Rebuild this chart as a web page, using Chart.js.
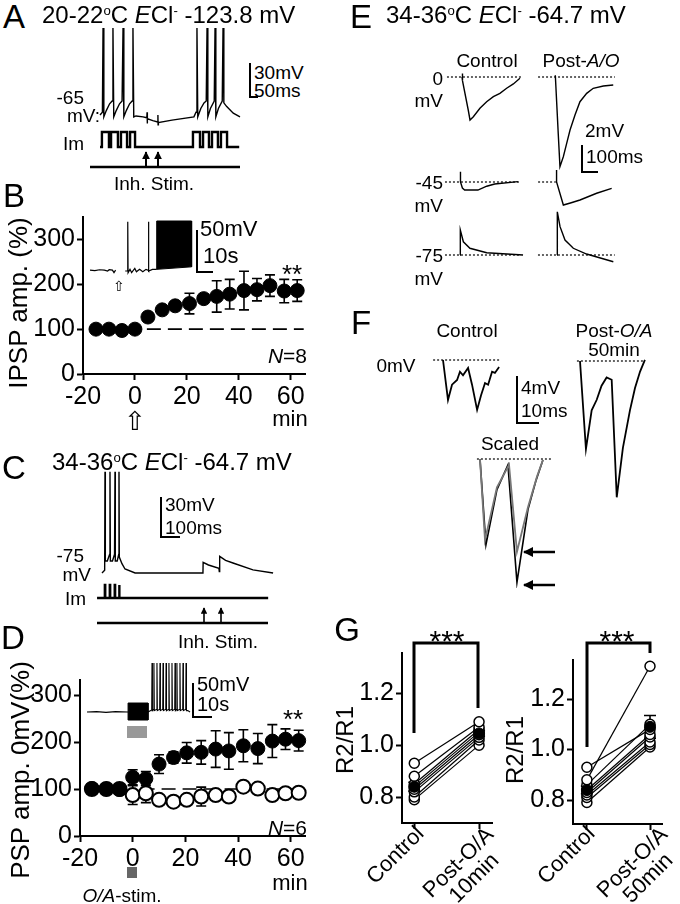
<!DOCTYPE html>
<html>
<head>
<meta charset="utf-8">
<title>Figure</title>
<script src="https://cdn.jsdelivr.net/npm/chart.js@4.4.1/dist/chart.umd.min.js"></script>
<style>
  body { margin: 0; background: #fff; }
  #fig { position: relative; width: 680px; height: 904px; overflow: hidden; background: #fff;
         font-family: "Liberation Sans", Arial, Helvetica, sans-serif; color: #000; }
  #fig canvas, #fig svg { position: absolute; }
  .t { position: absolute; white-space: nowrap; line-height: 1; transform: translate(-50%, -50%); }
  .t.l { transform: translate(0, -50%); }
  .t.r { transform: translate(-100%, -50%); }
  .t.v { transform: translate(-50%, -50%) rotate(-90deg); }
  .t.d { transform: translate(-50%, -50%) rotate(-45deg); text-align: center; font-size: 22px; line-height: 1.0; }
  .pl { font-size: 33px; }
  .h { font-size: 24px; }
  .m { font-size: 22px; }
  .s { font-size: 19px; }
  .yt { font-size: 26px; }
  sup { font-size: 0.55em; position: relative; top: -0.6em; vertical-align: baseline; line-height: 0; }
</style>
</head>
<body>
<div id="fig">
  <svg width="680" height="904" style="left:0;top:0">
    <defs>
      <marker id="ah" viewBox="0 0 10 10" refX="9" refY="5" markerWidth="4" markerHeight="4" orient="auto">
        <path d="M0,0 L10,5 L0,10 z" fill="#000"/>
      </marker>
    </defs>
    <g stroke="#000" fill="none" stroke-width="2">
      <!-- scale bars -->
      <path d="M250 63 V97 H258"/>
      <path d="M197 230 V272 H213"/>
      <path d="M161 497 V537 H180"/>
      <path d="M193 683 V717 H212"/>
      <path d="M582 145 V172 H598"/>
      <path d="M517 376 V423 H539"/>
      <!-- stimulation lines and arrows -->
      <path d="M90 167 H240" stroke-width="2.5"/>
      <path d="M146 167 V152" marker-end="url(#ah)"/>
      <path d="M158 167 V152" marker-end="url(#ah)"/>
      <path d="M97 623 H268" stroke-width="2.5"/>
      <path d="M204 622 V608" stroke-width="1.6" marker-end="url(#ah)"/>
      <path d="M221 622 V608" stroke-width="1.6" marker-end="url(#ah)"/>
      <path d="M555 552 H524" stroke-width="2.5" marker-end="url(#ah)"/>
      <path d="M555 585 H524" stroke-width="2.5" marker-end="url(#ah)"/>
      <!-- significance brackets -->
      <path d="M414 733 V643 H478 V708" stroke-width="3"/>
      <path d="M587 747 V643 H650 V653" stroke-width="3"/>
    </g>
    <rect x="127" y="726" width="20" height="12" fill="#999"/>
    <rect x="127" y="867" width="10" height="11" fill="#666"/>
  </svg>

  <!-- A -->
  <div class="t pl" style="left:14px;top:16px">A</div>
  <div class="t l h" style="left:42px;top:15px">20-22<sup>o</sup>C <i>E</i>Cl<sup>-</sup> -123.8 mV</div>
  <div class="t l s" style="left:254px;top:72px">30mV</div>
  <div class="t l s" style="left:254px;top:90px">50ms</div>
  <div class="t r s" style="left:84px;top:97px">-65</div>
  <div class="t r s" style="left:100px;top:115px">mV:</div>
  <div class="t r s" style="left:84px;top:143px">Im</div>
  <div class="t s" style="left:154px;top:183px">Inh. Stim.</div>

  <!-- B -->
  <div class="t pl" style="left:14px;top:195px">B</div>
  <div class="t v yt" style="left:18px;top:303px">IPSP amp. (%)</div>
  <div class="t l m" style="left:200px;top:229px">50mV</div>
  <div class="t l m" style="left:203px;top:256px">10s</div>
  <div class="t" style="left:119px;top:286px;font-size:14px">⇧</div>
  <div class="t" style="left:292px;top:274px;font-size:26px">**</div>
  <div class="t r" style="left:307px;top:355px;font-size:21px"><i>N</i>=8</div>
  <div class="t m" style="left:290px;top:419px">min</div>
  <div class="t" style="left:135px;top:421px;font-size:26px">⇧</div>

  <!-- C -->
  <div class="t pl" style="left:14px;top:467px">C</div>
  <div class="t l h" style="left:52px;top:462px">34-36<sup>o</sup>C <i>E</i>Cl<sup>-</sup> -64.7 mV</div>
  <div class="t l s" style="left:165px;top:504px">30mV</div>
  <div class="t l s" style="left:165px;top:527px">100ms</div>
  <div class="t r s" style="left:84px;top:555px">-75</div>
  <div class="t r s" style="left:91px;top:574px">mV</div>
  <div class="t r s" style="left:86px;top:598px">Im</div>
  <div class="t s" style="left:218px;top:641px">Inh. Stim.</div>

  <!-- D -->
  <div class="t pl" style="left:13px;top:637px">D</div>
  <div class="t v yt" style="left:20px;top:770px">PSP amp. 0mV(%)</div>
  <div class="t l" style="left:197px;top:684px;font-size:20px">50mV</div>
  <div class="t l" style="left:197px;top:704px;font-size:20px">10s</div>
  <div class="t" style="left:293px;top:719px;font-size:26px">**</div>
  <div class="t r" style="left:307px;top:827px;font-size:21px"><i>N</i>=6</div>
  <div class="t m" style="left:290px;top:883px">min</div>
  <div class="t s" style="left:122px;top:895px"><i>O/A</i>-stim.</div>

  <!-- E -->
  <div class="t pl" style="left:361px;top:16px">E</div>
  <div class="t l h" style="left:386px;top:15px">34-36<sup>o</sup>C <i>E</i>Cl<sup>-</sup> -64.7 mV</div>
  <div class="t s" style="left:487px;top:60px">Control</div>
  <div class="t s" style="left:581px;top:60px">Post-<i>A/O</i></div>
  <div class="t r s" style="left:443px;top:78px">0</div>
  <div class="t r s" style="left:443px;top:100px">mV</div>
  <div class="t r s" style="left:443px;top:182px">-45</div>
  <div class="t r s" style="left:443px;top:205px">mV</div>
  <div class="t r s" style="left:443px;top:255px">-75</div>
  <div class="t r s" style="left:443px;top:278px">mV</div>
  <div class="t l s" style="left:585px;top:130px">2mV</div>
  <div class="t l s" style="left:586px;top:156px">100ms</div>

  <!-- F -->
  <div class="t pl" style="left:361px;top:322px">F</div>
  <div class="t s" style="left:467px;top:330px">Control</div>
  <div class="t s" style="left:614px;top:330px">Post-<i>O/A</i></div>
  <div class="t s" style="left:614px;top:349px">50min</div>
  <div class="t s" style="left:396px;top:365px">0mV</div>
  <div class="t l s" style="left:521px;top:387px">4mV</div>
  <div class="t l s" style="left:521px;top:410px">10ms</div>
  <div class="t s" style="left:510px;top:443px">Scaled</div>

  <!-- G -->
  <div class="t pl" style="left:347px;top:629px">G</div>
  <div class="t" style="left:447px;top:641px;font-size:30px">***</div>
  <div class="t" style="left:617px;top:641px;font-size:30px">***</div>
  <div class="t v h" style="left:345px;top:740px">R2/R1</div>
  <div class="t v h" style="left:515px;top:750px">R2/R1</div>
  <div class="t d" style="left:395px;top:855px">Control</div>
  <div class="t d" style="left:466px;top:870px">Post-O/A<br>10min</div>
  <div class="t d" style="left:566px;top:855px">Control</div>
  <div class="t d" style="left:640px;top:870px">Post-O/A<br>50min</div>
</div>

<script>
// ---- B: IPSP amplitude time course (min, %) ----
const bTimes = [-15, -10, -5, 0, 5, 10.5, 15.5, 21, 26.5, 31.5, 36.5, 42, 47, 52, 57.5, 62.5];
const bIpsp = [100, 100, 97, 100, 127, 143, 152, 157, 168, 173, 178, 186, 188, 197, 185, 186];
const bIpspSem = [3, 3, 4, 3, 5, 5, 6, 23, 10, 35, 33, 43, 25, 24, 26, 24];
const bDashed = [[4.6, 100], [65, 100]];
const bXTicks = [-20, 0, 20, 40, 60];
const bYTicks = [0, 100, 200, 300];

// ---- D: PSP amplitude at 0 mV (filled: O/A stim, open: control) ----
const dTimes = [-15.5, -10, -5, 0, 5, 10, 15.5, 20.5, 26, 31.5, 36.5, 42, 47.5, 53, 58, 63];
const dOAStim = [101, 100, 99, 125, 122, 153, 167, 177, 178, 185, 181, 192, 186, 202, 206, 203];
const dOAStimSem = [3, 3, 3, 16, 15, 20, 12, 22, 25, 39, 39, 34, 32, 35, 22, 22];
const dControl = [100, 100, 100, 87, 91, 77, 73, 77, 84, 87, 84, 105, 101, 87, 91, 92];
const dControlSem = [2, 2, 2, 20, 20, 5, 4, 5, 20, 8, 10, 6, 6, 6, 6, 5];
const dDashed = [[3, 100], [65, 100]];
const dXTicks = [-20, 0, 20, 40, 60];
const dYTicks = [0, 100, 200, 300];

// ---- G: paired-pulse ratio R2/R1 ----
const gYTicks = [0.8, 1.0, 1.2];
const gXTicks = [0, 1];
const gLeftControl = [0.93, 0.88, 0.85, 0.84, 0.83, 0.82, 0.80, 0.79];
const gLeftPost = [1.09, 1.07, 1.06, 1.05, 1.04, 1.03, 1.02, 1.00];
const gLeftMean = [0.84, 1.045];
const gLeftSem = [0.017, 0.011];
const gRightControl = [0.88, 0.93, 0.86, 0.84, 0.83, 0.82, 0.81, 0.79];
const gRightPost = [1.33, 1.08, 1.10, 1.06, 1.05, 1.03, 1.02, 1.01];
const gRightMean = [0.84, 1.09];
const gRightSem = [0.015, 0.045];

// ---- A: membrane potential (ms, mV) and current steps ----
const aVm = [[0, -65], [15, -62], [19, 28], [24, -67], [40, -60], [60, -53], [76, -50], [81, 28], [86, -67],
  [102, -60], [122, -53], [138, -50], [144, 28], [149, -67], [165, -60], [185, -53], [201, -50], [206, 28],
  [211, -67], [225, -66], [269, -67], [293, -68], [294, -62], [295, -74], [297, -69], [330, -71], [361, -72.5],
  [362, -65], [363, -75.5], [365, -73], [450, -70.5], [587, -67], [600, -62], [606, 28], [611, -67], [630, -58],
  [650, -52], [664, -50], [669, 28], [674, -67], [690, -58], [714, -50], [719, 28], [724, -67], [740, -58],
  [764, -50], [769, 28], [774, -52], [792, -56], [833, -63], [875, -67]];
const aImPulses = [[12, 56], [69, 112], [131, 169], [188, 219], [581, 625], [644, 681], [700, 737], [756, 794]];
const aImSpan = [0, 870];

// ---- B / D insets: recordings during stimulation (s, mV) ----
const bInsetPre = [[0, -59], [3, -59.5], [6, -58.5], [9, -59], [11, -60], [12, -58.5], [14, -59], [15, -62], [16, -59]];
const bInsetPost = [[22, -60], [23.4, -60], [23.6, -1], [23.8, -62], [25, -58], [26, -62], [28, -57], [29, -61],
  [31, -58], [33, -61], [35, -58], [36.3, -59], [36.5, -1], [36.8, -60], [39, -58], [40.5, -58], [41.7, -58]];
const bInsetBurst = [[41.7, -58], [41.7, 0], [63.5, 0], [63.5, -55], [41.7, -58]];
const dInsetPre = [[0, -60], [5, -59.5], [10, -60.5], [15, -59.5], [21.6, -60]];
const dInsetBlock = [[21.6, -71.8], [21.6, -46.8], [32.1, -46.8], [32.1, -71.8], [21.6, -71.8]];
const dInsetSpikes = [34.2, 35.2, 36.8, 38.4, 40.0, 41.6, 43.1, 44.7, 46.3, 47.3, 48.9, 50.5, 52.1];
const dInsetEnd = [[53, -58], [54.2, -60]];

// ---- C: membrane potential (ms, mV) and current steps ----
const cVm = [[0, -75], [14, -73], [15.8, 1], [17.5, -66], [28, -66], [40, -61], [42, 1], [44, -66], [55, -66],
  [66, -61], [68.4, 1], [70, -66], [80, -66], [88, -61], [89.4, 1], [91, -63], [105, -68], [121, -72],
  [174, -75], [531, -75], [532, -67], [560, -69], [615, -71.5], [617, -74], [619, -62.5], [650, -65.5],
  [689, -67.5], [794, -72.7], [900, -75]];
const cImPulses = [[15, 17], [41, 43], [67, 69], [90, 92]];
const cImSpan = [-26, 874];

// ---- E: PSPs at 0, -45, -75 mV (ms, mV from holding) ----
const eCtrl0 = [[0, 0], [2, 0.3], [4, -0.3], [39, -2.75], [50, -3.58], [71, -3.31], [112, -2.6], [154, -2.06],
  [196, -1.64], [237, -1.36], [279, -0.94], [321, -0.58], [362, -0.11]];
const ePost0 = [[0, 0], [2, 0.15], [20.6, -4.8], [31, -7.47], [52, -6.64], [73, -5.53], [94, -4.42], [125, -3.17],
  [156, -2.06], [198, -1.36], [239, -0.94], [302, -0.75], [364, -0.67]];
const eCtrl45 = [[0, 0], [2, 0.86], [4, 0], [15, -0.5], [29, -0.67], [112, -0.67], [167, -0.35], [217, -0.17], [362, 0.03]];
const ePost45 = [[0, 0], [2, 1.0], [5, 0], [46, -1.92], [90, -1.75], [150, -1.5], [254, -0.94], [348, -0.53]];
const eCtrl75 = [[0, 0], [2, 2.08], [21, 1.1], [62, 0.56], [167, 0.19], [394, 0]];
const ePost75 = [[0, 0], [2, 3.6], [19, 2.36], [50, 1.25], [102, 0.56], [185, 0.08], [352, -0.56]];
const eCtrlBase = [-94, 381];
const ePost0Base = [-106, 375];
const ePost45Base = [-112, 0];
const ePost75Base = [-119, 362];

// ---- F: paired EPSPs at 0 mV (ms, mV) ----
const fCtrl = [[0, 0], [2.27, -3.4], [4.1, -2.1], [6.4, -1.7], [7.7, -1.0], [9.1, -1.3], [11.4, -0.68], [13.2, -2.1],
  [15.5, -4.25], [17.3, -3.0], [19.1, -1.96], [20.5, -2.1], [22.3, -1.0], [23.6, -1.1], [25.5, -0.6]];
const fPost = [[0, 0], [2.7, -7.5], [5.3, -4.2], [7.6, -3.3], [9.8, -2.1], [12.1, -1.4], [14.4, -1.6], [16.7, -11.6],
  [19.5, -7.4], [22.7, -4.2], [25, -2.3], [27.3, -0.9], [29.5, 0.1]];
const fScaledCtrl = [[0, 0], [2.27, -6.9], [7.7, -2.4], [13.2, -0.5], [16.8, -7.9], [21.8, -4.1], [25.9, -1.5], [28.6, -0.08]];
const fScaledPost = [[0, 0], [2.7, -7.3], [7.7, -2.6], [12.7, -0.5], [16.8, -10.5], [21.8, -4.3], [25.5, -1.8], [28.6, -0.08]];
const fCtrlBase = [-4.5, 25.9];
const fPostBase = [-1.4, 29.5];
const fScaledBase = [-1.4, 36.4];

Chart.defaults.font.family = '"Liberation Sans", Arial, Helvetica, sans-serif';
Chart.defaults.color = '#000';

const fig = document.getElementById('fig');
const firstText = fig.querySelector('.t');

const pts = (arr) => arr.map(([x, y]) => ({ x, y }));
const pairs = (xs, ys) => xs.map((x, i) => ({ x, y: ys[i] }));

function addCanvas(left, top, w, h) {
  const c = document.createElement('canvas');
  c.width = w;
  c.height = h;
  c.style.left = left + 'px';
  c.style.top = top + 'px';
  fig.insertBefore(c, firstText);
  return c;
}

// mean +/- SEM whiskers, drawn under the markers
const errorBars = {
  id: 'errorBars',
  beforeDatasetsDraw(chart) {
    const { ctx, scales: { x, y } } = chart;
    chart.data.datasets.forEach((ds) => {
      if (!ds.errors) return;
      ctx.save();
      ctx.strokeStyle = '#000';
      ctx.lineWidth = 1.6;
      ds.data.forEach((p, i) => {
        const e = ds.errors[i];
        if (!e) return;
        const px = x.getPixelForValue(p.x);
        const top = y.getPixelForValue(p.y + e);
        const bot = y.getPixelForValue(p.y - e);
        const cap = ds.capWidth || 5;
        ctx.beginPath();
        ctx.moveTo(px, top); ctx.lineTo(px, bot);
        ctx.moveTo(px - cap, top); ctx.lineTo(px + cap, top);
        ctx.moveTo(px - cap, bot); ctx.lineTo(px + cap, bot);
        ctx.stroke();
      });
      ctx.restore();
    });
  },
};

function axis(a, dim) {
  return {
    type: 'linear',
    min: a.min,
    max: a.max,
    afterBuildTicks: (s) => { s.ticks = a.ticks.map((value) => ({ value })); },
    afterFit: (s) => {
      s[dim] = a.size;
      s.paddingTop = s.paddingBottom = s.paddingLeft = s.paddingRight = 0;
    },
    border: { display: true, color: '#000', width: 2 },
    grid: { display: true, drawOnChartArea: false, drawTicks: true, tickLength: 6, tickWidth: 2, tickColor: '#000' },
    ticks: {
      display: !a.hideLabels,
      autoSkip: false,
      maxRotation: 0,
      minRotation: 0,
      padding: 2,
      color: '#000',
      font: { size: a.fontSize || 25 },
      callback: a.format || ((v) => String(v)),
    },
  };
}

function plotOptions(cfg) {
  return {
    responsive: false,
    animation: false,
    events: [],
    layout: { padding: { left: 0, bottom: 0, ...cfg.padding } },
    plugins: { legend: { display: false }, tooltip: { enabled: false } },
    scales: { x: axis(cfg.x, 'height'), y: axis(cfg.y, 'width') },
  };
}

// trace panels: axes hidden, box in page pixels, origin = [px, py, x0, y0], scale = units per pixel
function trace(box, origin, scale, datasets) {
  const [left, top, w, h] = box;
  const [ox, oy, x0, y0] = origin;
  const [sx, sy] = scale;
  return new Chart(addCanvas(left, top, w, h), {
    type: 'scatter',
    data: {
      datasets: datasets.map((d) => ({
        showLine: true, pointRadius: 0, borderColor: '#000', borderWidth: 1.4, tension: 0, clip: false, ...d,
      })),
    },
    options: {
      responsive: false,
      animation: false,
      events: [],
      layout: { padding: 0 },
      plugins: { legend: { display: false }, tooltip: { enabled: false } },
      scales: {
        x: { type: 'linear', display: false, min: x0 + (left - ox) * sx, max: x0 + (left + w - ox) * sx },
        y: { type: 'linear', display: false, min: y0 + (oy - top - h) * sy, max: y0 + (oy - top) * sy },
      },
    },
  });
}

const line = (data, extra = {}) => ({ data: pts(data), ...extra });
const dotted = ([a, b], y = 0) => ({ data: pts([[a, y], [b, y]]), borderDash: [2, 2], borderWidth: 1.2 });
const filled = (data) => ({ data: pts(data), fill: 'shape', backgroundColor: '#000', borderWidth: 1 });

function pulseTrain(pulses, [start, end]) {
  const out = [[start, 0]];
  pulses.forEach(([on, off]) => out.push([on, 0], [on, 1], [off, 1], [off, 0]));
  out.push([end, 0]);
  return out;
}

function spikeTrain(times, base, peak) {
  const out = [];
  times.forEach((t) => out.push([t - 0.15, base], [t, peak], [t + 0.2, base - 2]));
  return out;
}

// ---- A ----
trace([95, 22, 150, 108], [100, 115, 0, -65], [6.25, 1.07], [line(aVm)]);
trace([95, 127, 150, 25], [100, 147, 0, 0], [6.25, 1 / 15], [line(pulseTrain(aImPulses, aImSpan), { borderWidth: 2.4 })]);

// ---- B ----
new Chart(addCanvas(0, 200, 320, 220), {
  type: 'scatter',
  data: {
    datasets: [
      { data: pairs(bTimes, bIpsp), errors: bIpspSem, pointRadius: 7, pointBackgroundColor: '#000', pointBorderColor: '#000', order: 0, clip: false },
      { data: pts(bDashed), showLine: true, pointRadius: 0, borderColor: '#000', borderWidth: 1.6, borderDash: [14, 7], order: 1 },
    ],
  },
  options: plotOptions({
    padding: { top: 17, right: 15 },
    x: { min: -20, max: 65.5, ticks: bXTicks, size: 46 },
    y: { min: 0, max: 350, ticks: bYTicks, size: 83 },
  }),
  plugins: [errorBars],
});
trace([86, 218, 112, 60], [90, 271, 0, -60], [0.625, 1.2], [
  line(bInsetPre, { borderWidth: 1.2 }),
  line(bInsetPost, { borderWidth: 1.2 }),
  filled(bInsetBurst),
]);

// ---- C ----
trace([95, 466, 190, 115], [102, 573, 0, -75], [5.26, 0.75], [line(cVm)]);
trace([95, 580, 175, 22], [102, 598, 0, 0], [5.26, 1 / 13], [line(pulseTrain(cImPulses, cImSpan), { borderWidth: 2.4 })]);

// ---- D ----
new Chart(addCanvas(0, 660, 320, 244), {
  type: 'scatter',
  data: {
    datasets: [
      { data: pairs(dTimes, dOAStim), errors: dOAStimSem, pointRadius: 7, pointBackgroundColor: '#000', pointBorderColor: '#000', order: 0, clip: false },
      { data: pairs(dTimes, dControl), errors: dControlSem, pointRadius: 7, pointBackgroundColor: '#fff', pointBorderColor: '#000', pointBorderWidth: 2, order: 1, clip: false },
      { data: pts(dDashed), showLine: true, pointRadius: 0, borderColor: '#000', borderWidth: 1.6, borderDash: [14, 7], order: 2 },
    ],
  },
  options: plotOptions({
    padding: { top: 20, right: 15 },
    x: { min: -20, max: 65.4, ticks: dXTicks, size: 68 },
    y: { min: 0, max: 332, ticks: dYTicks, size: 80 },
  }),
  plugins: [errorBars],
});
trace([84, 660, 110, 65], [87, 712, 0, -60], [0.526, 1.47], [
  line(dInsetPre, { borderWidth: 1.1 }),
  filled(dInsetBlock),
  line([[32.1, -60], [34, -57], ...spikeTrain(dInsetSpikes, -56, 12), ...dInsetEnd], { borderWidth: 1.1 }),
]);

// ---- E ----
const eScale = [6.25, 2 / 24];
trace([445, 70, 82, 55], [462, 77, 0, 0], eScale, [dotted(eCtrlBase), line(eCtrl0)]);
trace([535, 70, 85, 100], [555, 77, 0, 0], eScale, [dotted(ePost0Base), line(ePost0)]);
trace([445, 168, 82, 30], [460, 182, 0, 0], eScale, [dotted(eCtrlBase), line(eCtrl45)]);
trace([535, 165, 85, 45], [556, 182, 0, 0], eScale, [dotted(ePost45Base), line(ePost45)]);
trace([445, 225, 82, 40], [460, 255, 0, 0], eScale, [dotted(eCtrlBase), line(eCtrl75)]);
trace([535, 205, 85, 65], [557, 255, 0, 0], eScale, [dotted(ePost75Base), line(ePost75)]);

// ---- F ----
const fScale = [10 / 22, 4 / 47];
trace([430, 355, 75, 60], [443, 360, 0, 0], fScale, [dotted(fCtrlBase), line(fCtrl, { borderWidth: 1.8 })]);
trace([572, 355, 78, 145], [580, 361, 0, 0], fScale, [dotted(fPostBase), line(fPost, { borderWidth: 1.8 })]);
trace([472, 453, 80, 135], [480, 459, 0, 0], fScale, [
  dotted(fScaledBase),
  line(fScaledCtrl, { borderColor: '#777', borderWidth: 1.8 }),
  line(fScaledPost, { borderWidth: 1.6 }),
]);

// ---- G ----
function pairedChart(canvas, control, post, mean, sem, cfg) {
  const datasets = control.map((c, i) => ({
    data: pts([[0, c], [1, post[i]]]),
    showLine: true,
    pointRadius: 5,
    pointBackgroundColor: '#fff',
    pointBorderColor: '#000',
    pointBorderWidth: 1.5,
    borderColor: '#000',
    borderWidth: 1.2,
    clip: false,
    order: 1,
  }));
  datasets.push({
    data: pts([[0, mean[0]], [1, mean[1]]]), errors: sem, capWidth: 6,
    pointRadius: 5.5, pointBackgroundColor: '#000', pointBorderColor: '#000', clip: false, order: 0,
  });
  return new Chart(canvas, {
    type: 'scatter',
    data: { datasets },
    options: plotOptions({
      padding: cfg.padding,
      x: { ...cfg.x, ticks: gXTicks, hideLabels: true },
      y: { ...cfg.y, ticks: gYTicks, fontSize: 25, format: (v) => v.toFixed(1) },
    }),
    plugins: [errorBars],
  });
}

pairedChart(addCanvas(340, 640, 160, 264), gLeftControl, gLeftPost, gLeftMean, gLeftSem, {
  padding: { top: 13, right: 8 },
  x: { min: -0.19, max: 1.2, size: 81 },
  y: { min: 0.70, max: 1.355, size: 62 },
});
pairedChart(addCanvas(505, 640, 170, 264), gRightControl, gRightPost, gRightMean, gRightSem, {
  padding: { top: 20, right: 13 },
  x: { min: -0.22, max: 1.19, size: 80 },
  y: { min: 0.705, max: 1.355, size: 68 },
});
</script>
</body>
</html>
